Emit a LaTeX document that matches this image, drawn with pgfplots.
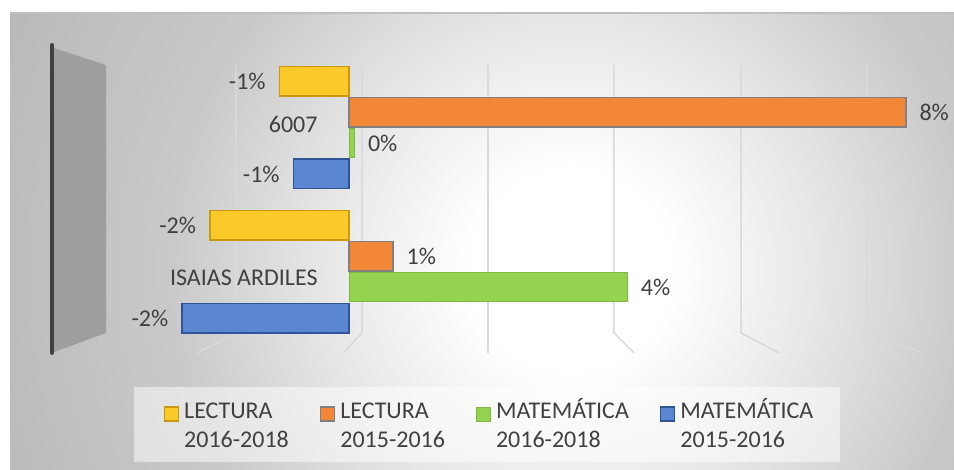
\documentclass[border=0pt]{standalone}
\usepackage{pgfplots}
\pgfplotsset{compat=1.18}
\usepackage{fontspec}
\setmainfont{Carlito}
\pgfdeclareradialshading{bgshade}{\pgfpoint{0bp}{0bp}}{color(0bp)=(white); color(2.5bp)=(white); color(6bp)=(black!9); color(10bp)=(black!21); color(15bp)=(black!27); color(50bp)=(black!27)}
\definecolor{ylw}{HTML}{FCC92B}
\definecolor{ylwd}{HTML}{C79A10}
\definecolor{org}{HTML}{F28738}
\definecolor{orgd}{HTML}{808080}
\definecolor{grn}{HTML}{94D250}
\definecolor{grnd}{HTML}{7DB845}
\definecolor{blu}{HTML}{5B86D0}
\definecolor{blud}{HTML}{2F5597}
\definecolor{txt}{HTML}{404040}
\definecolor{gridc}{HTML}{D9D9D9}
\begin{document}
\fontsize{24bp}{29bp}\selectfont
\begin{tikzpicture}[x=1bp,y=1bp]
\useasboundingbox (0,0) rectangle (954,470);
\fill[white] (0,0) rectangle (954,470);
\begin{scope}
\clip (10,0) rectangle (954,457);
\shade[shading=bgshade] (-430,-800) rectangle (1570,1200);
\end{scope}
\draw[black!25, line width=1.5] (10,457) -- (954,457);
\fill[white, opacity=0.5] (134,8) rectangle (840,83);
\fill[black!38] (54,422) -- (106,405) -- (106,137) -- (54,118) -- cycle;
\draw[txt, line width=4, line cap=round] (52,425) -- (52,117);
\begin{axis}[
  at={(105.4bp,111.7bp)}, anchor=south west, scale only axis,
  width=835.2bp, height=302.9bp,
  xmin=-3.5, xmax=8.5, ymin=-0.5, ymax=1.6, y dir=reverse,
  xbar, bar width=0.205,
  axis line style={draw=none},
  tick style={draw=none},
  xtick=\empty,
  ytick={-0.02,1.04},
  yticklabels={6007,ISAIAS ARDILES},
  yticklabel style={anchor=east, inner sep=0pt, xshift=216.6bp, text=txt},
  point meta=explicit symbolic,
  nodes near coords,
  every node near coord/.append style={text=txt, inner xsep=13bp, inner ysep=0pt},
  legend style={at={(axis description cs:0.4587,-0.1714)}, anchor=center, draw=none, fill=none,
    text=txt, nodes={inner sep=0pt},
    /tikz/every odd column/.append style={column sep=5bp},
    /tikz/every even column/.append style={column sep=31bp}},
  legend columns=4,
  legend cell align=left,
  legend image code/.code={\draw[#1] (0bp,-11bp) rectangle (14bp,3bp);},
]
\draw[gridc, line width=1.5bp] (axis cs:-1.624,-0.433) -- (axis cs:-1.624,1.424) -- (axis cs:-2.184,1.563);
\draw[gridc, line width=1.5bp] (axis cs:0.187,-0.433) -- (axis cs:0.187,1.424) -- (axis cs:-0.086,1.563);
\draw[gridc, line width=1.5bp] (axis cs:1.997,-0.433) -- (axis cs:1.997,1.563);
\draw[gridc, line width=1.5bp] (axis cs:3.807,-0.433) -- (axis cs:3.807,1.424) -- (axis cs:4.095,1.563);
\draw[gridc, line width=1.5bp] (axis cs:5.632,-0.433) -- (axis cs:5.632,1.424) -- (axis cs:6.178,1.563);
\draw[gridc, line width=1.5bp] (axis cs:7.443,-0.433) -- (axis cs:7.443,1.424) -- (axis cs:8.247,1.563);

\addplot[fill=ylw, draw=ylwd, line width=1.5bp, bar shift=-0.322,
  every node near coord/.append style={anchor=east}]
  coordinates {(-1.0,0) [-1\%] (-2.0,1) [-2\%]};
\addlegendentry{\begin{tabular}[t]{@{}l@{}}LECTURA\\2016-2018\end{tabular}}
\addplot[fill=org, draw=orgd, line width=1.5bp, bar shift=-0.107,
  every node near coord/.append style={anchor=west}]
  coordinates {(8.0,0) [8\%] (0.63,1) [1\%]};
\addlegendentry{\begin{tabular}[t]{@{}l@{}}LECTURA\\2015-2016\end{tabular}}
\addplot[fill=grn, draw=grnd, line width=1bp, bar shift=0.107,
  every node near coord/.append style={anchor=west}]
  coordinates {(0.08,0) [0\%] (4.0,1) [4\%]};
\addlegendentry{\begin{tabular}[t]{@{}l@{}}MATEMÁTICA\\2016-2018\end{tabular}}
\addplot[fill=blu, draw=blud, line width=1.5bp, bar shift=0.322,
  every node near coord/.append style={anchor=east}]
  coordinates {(-0.8,0) [-1\%] (-2.4,1) [-2\%]};
\addlegendentry{\begin{tabular}[t]{@{}l@{}}MATEMÁTICA\\2015-2016\end{tabular}}
\end{axis}
\end{tikzpicture}
\end{document}
